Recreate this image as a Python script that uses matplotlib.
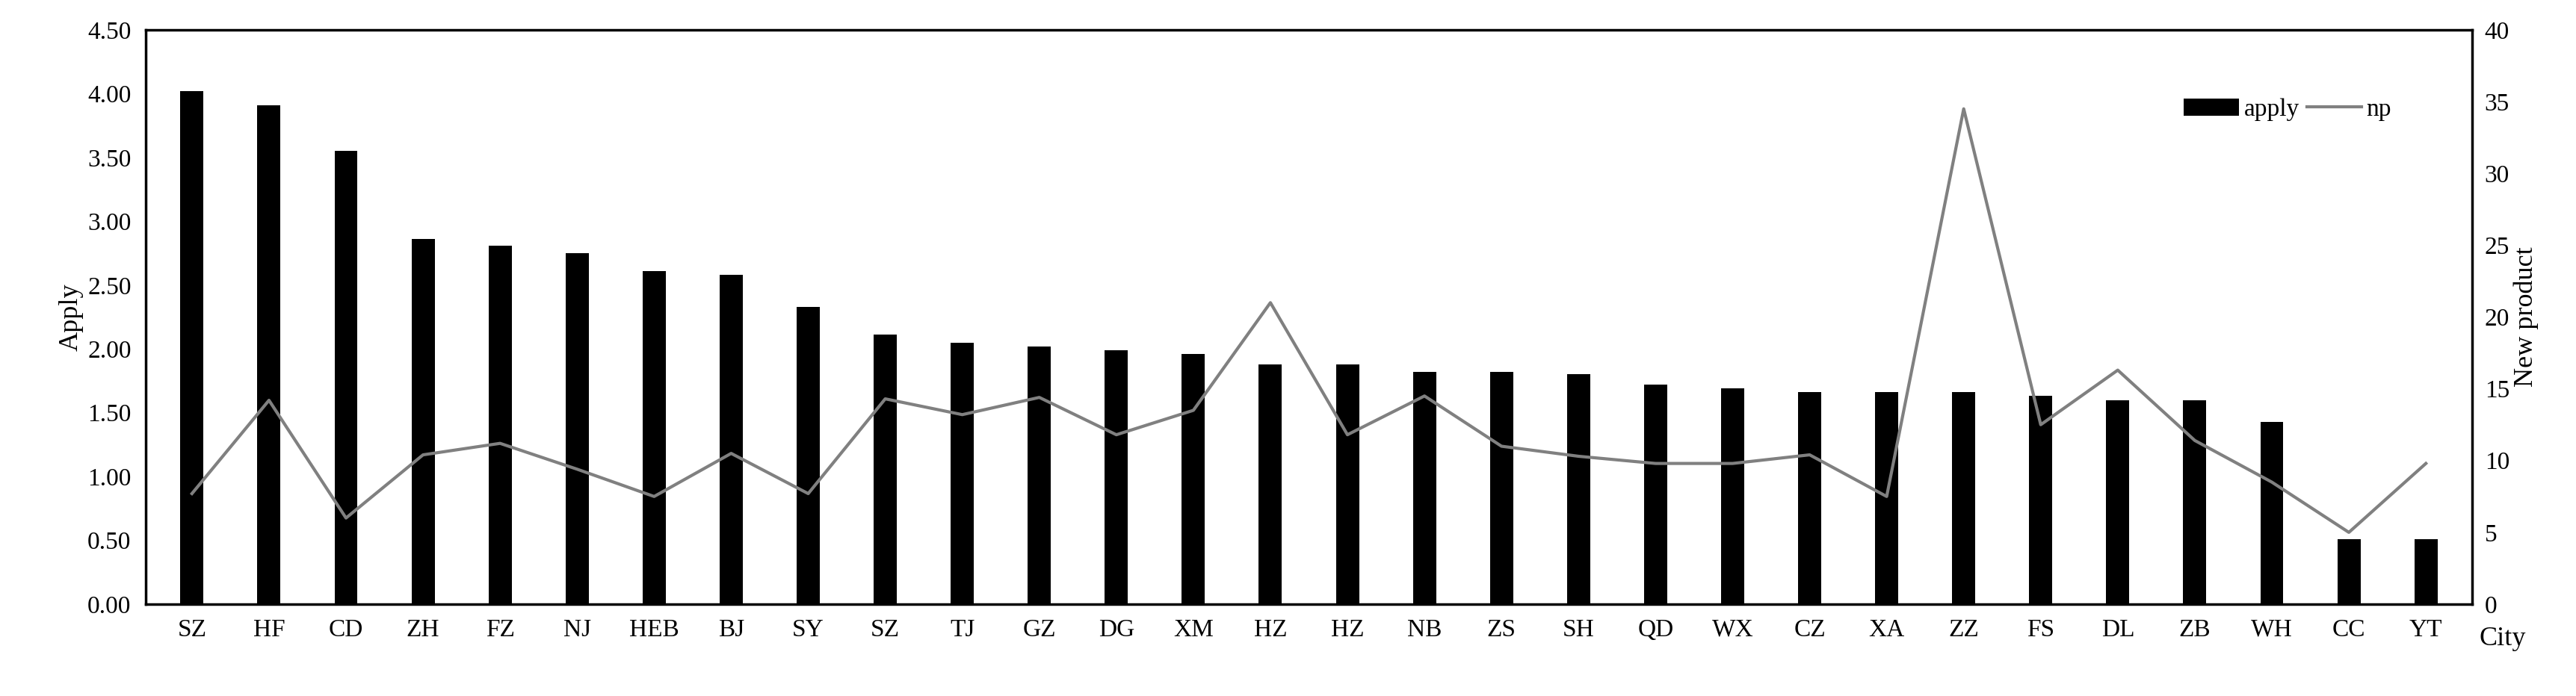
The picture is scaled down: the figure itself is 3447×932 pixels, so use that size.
import matplotlib
matplotlib.use("Agg")
import matplotlib.pyplot as plt
import numpy as np

cities = ["SZ","HF","CD","ZH","FZ","NJ","HEB","BJ","SY","SZ","TJ","GZ","DG","XM","HZ",
          "HZ","NB","ZS","SH","QD","WX","CZ","XA","ZZ","FS","DL","ZB","WH","CC","YT"]
apply_vals = [4.02,3.91,3.55,2.86,2.81,2.75,2.61,2.58,2.33,2.11,2.05,2.02,1.99,1.96,1.88,
              1.88,1.82,1.82,1.80,1.72,1.69,1.66,1.66,1.66,1.63,1.60,1.60,1.43,0.51,0.51]
np_vals = [7.7,14.2,6.0,10.4,11.2,9.4,7.5,10.5,7.7,14.3,13.2,14.4,11.8,13.5,21.0,
           11.8,14.5,11.0,10.3,9.8,9.8,10.4,7.5,34.5,12.5,16.3,11.4,8.5,5.0,9.8]

plt.rcParams['font.family'] = ['Liberation Serif', 'DejaVu Serif']
fig = plt.figure(figsize=(34.48, 9.32), dpi=100)
ax = fig.add_axes([195/3448, 1-809/932, (3308-195)/3448, (809-40)/932])
x = np.arange(len(cities))
b = ax.bar(x, apply_vals, width=0.3, color='black', label='apply')
ax.set_xlim(-0.6, len(cities)-0.4)
ax.set_ylim(0, 4.5)
ax.set_yticks(np.arange(0, 4.51, 0.5))
ax.set_yticklabels([f"{v:.2f}" for v in np.arange(0, 4.51, 0.5)])
ax.set_xticks(x)
ax.set_xticklabels(cities)
ax.tick_params(length=0, labelsize=24, pad=14)
ax.set_ylabel("Apply", fontsize=26)
for s in ax.spines.values():
    s.set_linewidth(2.5)
ax2 = ax.twinx()
l, = ax2.plot(x, np_vals, color='#808080', lw=3, label='np')
ax2.set_ylim(0, 40)
ax2.set_yticks(range(0, 41, 5))
ax2.tick_params(length=0, labelsize=24, pad=12)
ax2.set_ylabel("New product", fontsize=26)
for s in ax2.spines.values():
    s.set_visible(False)
ax.text(1.003, -0.06, "City", transform=ax.transAxes, fontsize=26, va='center', ha='left')
ax.legend([b, l], ['apply', 'np'], loc='upper right', bbox_to_anchor=(0.975, 0.92), ncol=2,
          frameon=False, fontsize=24, handlelength=2.2, columnspacing=0.3, handletextpad=0.2)
fig.savefig("out.png", dpi=100)
